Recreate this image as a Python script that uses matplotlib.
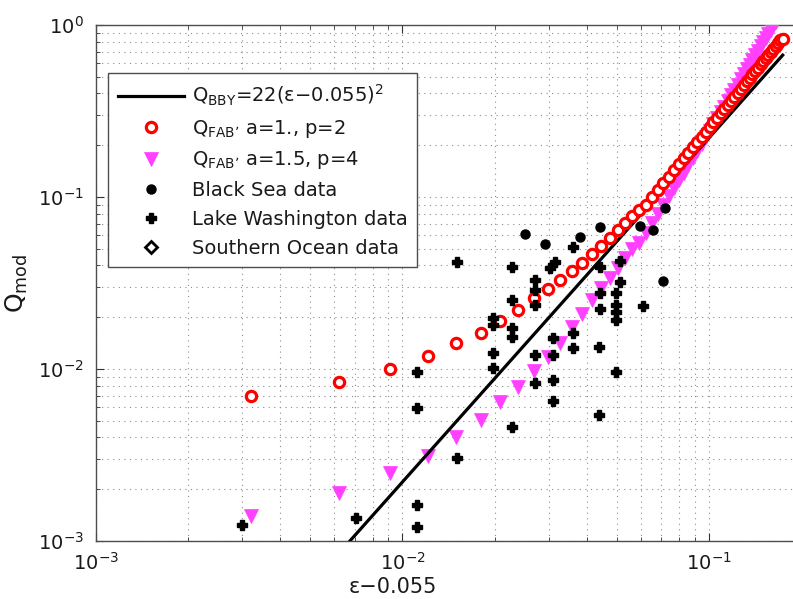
import matplotlib
matplotlib.use("Agg")
import matplotlib.pyplot as plt
from matplotlib.lines import Line2D
from matplotlib.ticker import LogLocator, NullFormatter

plt.rcParams['font.family'] = ['DejaVu Sans']
plt.rcParams['mathtext.fontset'] = 'dejavusans'

# ---------------- data ----------------
# Q_BBY = 22(eps-0.055)^2, straight line in log-log: endpoints as drawn
bby_x = [0.00674, 0.1743]
bby_q = [0.001, 0.668]

# Q_FAB', a=1., p=2 (red circles)
fab1_x = [0.0032, 0.0062, 0.0091, 0.0121, 0.0150, 0.0180, 0.0209, 0.0239, 0.0268, 0.0298,
          0.0327, 0.0357, 0.0386, 0.0416, 0.0445, 0.0475, 0.0504, 0.0534, 0.0563, 0.0593,
          0.0622, 0.0652, 0.0681, 0.0711, 0.0740, 0.0770, 0.0799, 0.0829, 0.0858, 0.0888,
          0.0917, 0.0947, 0.0976, 0.1006, 0.1035, 0.1065, 0.1094, 0.1124, 0.1153, 0.1183,
          0.1212, 0.1242, 0.1271, 0.1301, 0.1330, 0.1360, 0.1389, 0.1419, 0.1448, 0.1478,
          0.1507, 0.1537, 0.1566, 0.1596, 0.1625, 0.1655, 0.1684, 0.1714, 0.1743]
fab1_q = [0.0070, 0.0084, 0.0100, 0.0119, 0.0141, 0.0162, 0.0189, 0.0219, 0.0257, 0.0290,
          0.0327, 0.0369, 0.0415, 0.0469, 0.0521, 0.0580, 0.0645, 0.0708, 0.0776, 0.0841,
          0.0900, 0.0994, 0.1095, 0.1201, 0.1312, 0.1429, 0.1551, 0.1678, 0.1811, 0.1949,
          0.2093, 0.2243, 0.2396, 0.2557, 0.2723, 0.2894, 0.3071, 0.3255, 0.3444, 0.3639,
          0.3839, 0.4046, 0.4257, 0.4475, 0.4696, 0.4928, 0.5162, 0.5404, 0.5650, 0.5904,
          0.6164, 0.6428, 0.6700, 0.6977, 0.7262, 0.7551, 0.7848, 0.8147, 0.8300]

# Q_FAB', a=1.5, p=4 (magenta triangles)
fab2_x = [0.0032, 0.0062, 0.0091, 0.0121, 0.0150, 0.0180, 0.0209, 0.0239, 0.0268, 0.0298,
          0.0327, 0.0357, 0.0386, 0.0416, 0.0445, 0.0475, 0.0504, 0.0534, 0.0563, 0.0593,
          0.0622, 0.0652, 0.0681, 0.0711, 0.0740, 0.0770, 0.0799, 0.0829, 0.0858, 0.0888,
          0.0917, 0.0947, 0.0976, 0.1006, 0.1035, 0.1065, 0.1094, 0.1124, 0.1153, 0.1183,
          0.1212, 0.1242, 0.1271, 0.1301, 0.1330, 0.1360, 0.1389, 0.1419, 0.1448, 0.1478,
          0.1507, 0.1537, 0.1566, 0.1596, 0.1625, 0.1655, 0.1684]
fab2_q = [0.00140, 0.00189, 0.00247, 0.00314, 0.00404, 0.00507, 0.00644, 0.00787, 0.00973, 0.0117,
          0.0141, 0.0175, 0.0208, 0.0251, 0.0294, 0.0340, 0.0389, 0.0444, 0.0500, 0.0542,
          0.0619, 0.0705, 0.0799, 0.0900, 0.1009, 0.1125, 0.1251, 0.1385, 0.1528, 0.168,
          0.185, 0.203, 0.222, 0.2424, 0.264, 0.2867, 0.3106, 0.3358, 0.3624, 0.3904,
          0.4197, 0.4504, 0.4826, 0.5162, 0.5512, 0.5878, 0.6259, 0.6656, 0.7073, 0.7506,
          0.7953, 0.842, 0.8904, 0.94, 0.993, 1.046, 1.10]

# Black Sea data (filled circles)
black_x = [0.0251, 0.0292, 0.0380, 0.0441, 0.0596, 0.0657, 0.0718, 0.0708]
black_q = [0.0610, 0.0533, 0.0585, 0.0669, 0.0678, 0.0643, 0.0863, 0.0325]

# Lake Washington data (plus)
lake_x = [0.0030, 0.00705, 0.01115, 0.01115, 0.01115, 0.01115, 0.0151, 0.0151,
          0.0197, 0.0197, 0.0197, 0.0197, 0.0228, 0.0228, 0.0228, 0.0228, 0.0228,
          0.0271, 0.0271, 0.0271, 0.0271, 0.0271, 0.0303, 0.0315, 0.0310, 0.0310,
          0.0310, 0.0310, 0.0360, 0.0360, 0.0360, 0.0441, 0.0441, 0.0441, 0.0438,
          0.0438, 0.0512, 0.0512, 0.0497, 0.0497, 0.0497, 0.0497, 0.0497, 0.0609]
lake_q = [0.00124, 0.00136, 0.0096, 0.00593, 0.00162, 0.00121, 0.0419, 0.00304,
          0.0198, 0.0180, 0.0124, 0.0101, 0.0392, 0.0252, 0.0173, 0.0153, 0.00460,
          0.0329, 0.0288, 0.0235, 0.0121, 0.00829, 0.0387, 0.0419, 0.0151, 0.0121,
          0.00863, 0.00652, 0.0512, 0.0162, 0.0132, 0.0392, 0.0277, 0.0223, 0.0134,
          0.00540, 0.0425, 0.0320, 0.0277, 0.0235, 0.0215, 0.0193, 0.0096, 0.0232]

# Southern Ocean data (open diamonds) - none visible in range
south_x = []
south_q = []

x_ticks = [1e-3, 1e-2, 1e-1]
y_ticks = [1e-3, 1e-2, 1e-1, 1e0]

# ---------------- figure ----------------
W, H = 793, 599
fig = plt.figure(figsize=(W / 100, H / 100), dpi=100)
ax = fig.add_axes([96 / W, (H - 541) / H, 705 / W, 516 / H])
ax.set_xscale('log')
ax.set_yscale('log')
ax.set_xlim(1e-3, 0.2)
ax.set_ylim(1e-3, 1e0)

grid_kw = dict(linestyle=(0, (1, 4)), color='0.55', linewidth=0.8)
ax.grid(True, which='major', **grid_kw)
ax.grid(True, which='minor', **grid_kw)
ax.set_axisbelow(True)

magenta = '#ff40ff'
red = '#ff0000'

ax.plot(fab2_x, fab2_q, linestyle='none', marker='v', ms=10.5, mfc=magenta,
        mec=magenta, mew=0.5, zorder=3)
ax.plot(bby_x, bby_q, color='black', lw=2.3, zorder=4)
ax.plot(fab1_x, fab1_q, linestyle='none', marker='o', ms=7.4, mfc='white',
        mec=red, mew=2.3, zorder=5)
ax.plot(black_x, black_q, linestyle='none', marker='o', ms=6.5, color='black', zorder=6)
ax.plot(lake_x, lake_q, linestyle='none', marker='P', ms=7.5, color='black', zorder=6)
ax.plot(south_x, south_q, linestyle='none', marker='D', ms=6, mfc='white',
        mec='black', mew=2, zorder=6)

ax.set_xticks(x_ticks)
ax.set_yticks(y_ticks)
ax.xaxis.set_minor_locator(LogLocator(base=10, subs=range(2, 10), numticks=20))
ax.yaxis.set_minor_locator(LogLocator(base=10, subs=range(2, 10), numticks=20))
ax.xaxis.set_minor_formatter(NullFormatter())
ax.yaxis.set_minor_formatter(NullFormatter())
ax.tick_params(which='both', direction='in', top=True, right=False,
               colors='0.2', labelcolor='0.1')
ax.tick_params(which='major', length=6, width=0.8, labelsize=14)
ax.tick_params(which='minor', length=3, width=0.6)
ax.tick_params(axis='y', pad=9)
ax.tick_params(axis='x', pad=8)

for s in ['left', 'bottom', 'top']:
    ax.spines[s].set_color('0.3')
    ax.spines[s].set_linewidth(1.0)
ax.spines['right'].set_visible(False)

ax.set_xlabel('ε−0.055', fontsize=15, color='0.1')
ax.xaxis.set_label_coords((393 - 96) / 705, -0.07)
ax.set_ylabel(r'$\mathregular{Q_{mod}}$', fontsize=18, color='0.1')
ax.yaxis.set_label_coords(-(96 - 30) / 705, 0.5)

handles = [
    Line2D([], [], color='black', lw=2.3),
    Line2D([], [], linestyle='none', marker='o', ms=7.4, mfc='white', mec=red, mew=2.3),
    Line2D([], [], linestyle='none', marker='v', ms=10.5, mfc=magenta, mec=magenta, mew=0.5),
    Line2D([], [], linestyle='none', marker='o', ms=6.5, color='black'),
    Line2D([], [], linestyle='none', marker='P', ms=7.5, color='black'),
    Line2D([], [], linestyle='none', marker='D', ms=6, mfc='white', mec='black', mew=2),
]
labels = [
    r'$\mathregular{Q_{BBY}}$=22(ε−0.055)$\mathregular{^2}$',
    r'$\mathregular{Q_{FAB’}}$ a=1., p=2',
    r'$\mathregular{Q_{FAB’}}$ a=1.5, p=4',
    'Black Sea data',
    'Lake Washington data',
    'Southern Ocean data',
]
leg = ax.legend(handles, labels, loc='upper left',
                bbox_to_anchor=(108 / W, 1 - 73 / H), bbox_transform=fig.transFigure,
                borderaxespad=0, fontsize=14, frameon=True, fancybox=False,
                framealpha=1, edgecolor='0.3', handlelength=3.4, handletextpad=0.4,
                labelspacing=0.5, borderpad=0.5, numpoints=1)
leg.get_frame().set_linewidth(1.0)
for t in leg.get_texts():
    t.set_color('0.1')

fig.savefig('out.png', dpi=100)
